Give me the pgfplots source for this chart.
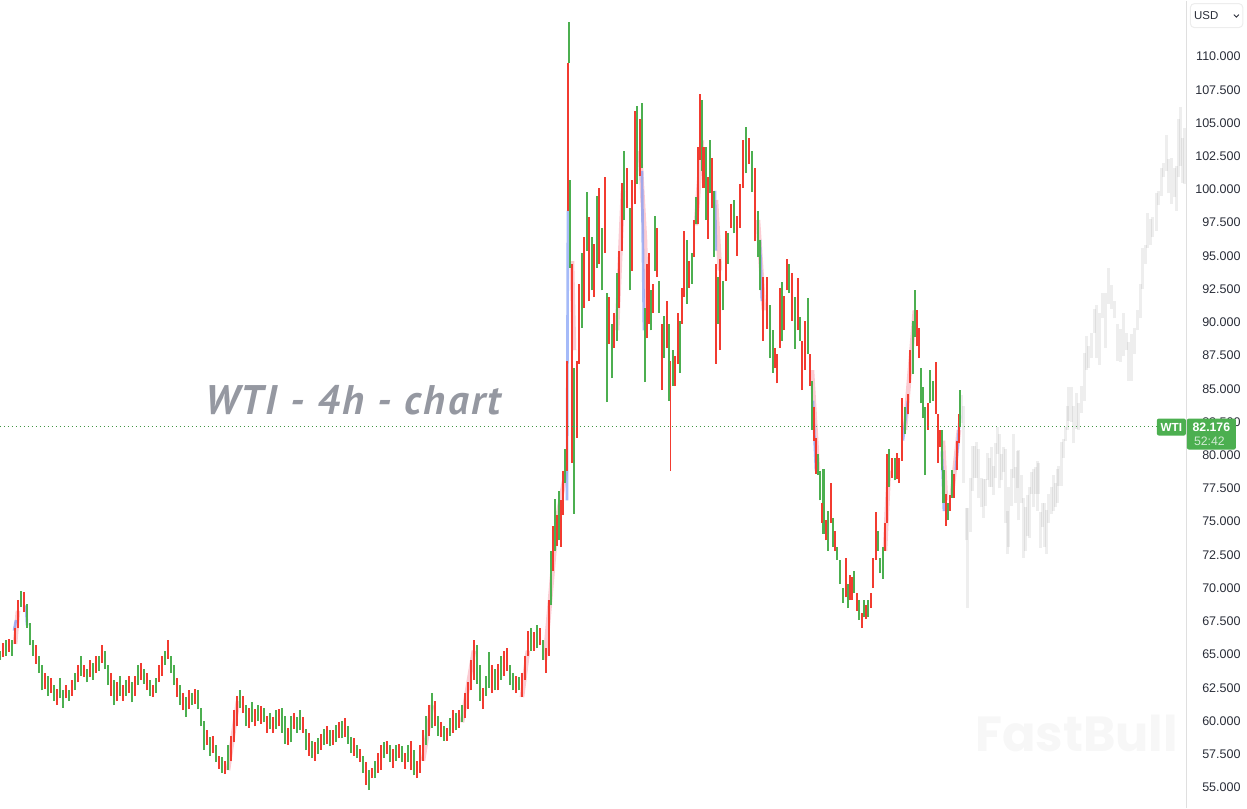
\documentclass[border=0pt]{standalone}
\usepackage{pgfplots}
\usepackage{pgfplotstable}
\usepackage{fontspec}
\pgfplotsset{compat=1.18}
\setmainfont{Liberation Sans}
\newfontfamily\titlefont{PT Sans}[LetterSpace=6]
\newfontfamily\wmfont{Poppins}
\definecolor{barred}{HTML}{F23B30}
\definecolor{bargreen}{HTML}{4CAF50}
\definecolor{axtext}{HTML}{2A2E39}
\definecolor{titlegray}{HTML}{9598A1}
\definecolor{paneline}{HTML}{DFDFDF}
\definecolor{palepink}{HTML}{F9A8B4}
\definecolor{paleblue}{HTML}{7F9CF5}
% x  low  high  c (1 red, 0 green; 3 and 2 are thin red and green wicks)
\pgfplotstableread{
x lo hi c
0 64.6 65.3 0
3 64.8 65.9 1
6 64.9 66.1 0
9 65.2 66.2 1
12 64.9 66.1 0
15 65.8 67.0 1
18 67.0 69.1 1
21 68.6 69.8 0
24 68.2 69.7 1
27 67.0 68.8 0
30 65.7 67.4 0
33 64.9 66.1 0
36 64.3 65.7 1
39 63.6 64.9 0
42 62.3 64.2 0
45 62.4 63.6 1
48 61.9 63.4 0
51 62.1 63.2 1
54 61.5 62.7 0
57 61.2 62.4 1
60 61.7 63.2 0
63 61.0 62.3 0
66 61.7 62.7 1
69 61.5 62.3 0
72 61.9 63.1 1
75 62.3 63.6 0
78 62.9 64.2 1
81 63.4 64.9 0
84 63.3 64.2 1
87 62.9 63.9 0
90 63.3 64.6 1
93 63.1 64.4 0
96 63.6 64.9 1
99 63.8 64.9 0
102 64.4 65.7 1
105 63.9 65.3 0
108 62.7 64.2 0
111 61.9 63.6 1
114 61.2 63.1 0
117 61.5 62.9 1
120 61.9 63.4 0
123 61.5 62.7 1
126 61.9 63.1 0
129 62.1 63.4 1
132 61.4 62.9 0
135 61.9 63.4 1
138 62.7 64.2 0
141 63.1 64.4 1
144 62.8 63.9 0
147 62.3 63.6 1
150 61.9 63.1 0
153 61.8 62.7 1
156 62.1 63.2 0
159 62.9 64.2 1
162 63.4 64.9 1
165 64.2 65.3 0
168 64.7 66.1 1
171 63.6 64.9 0
174 62.7 64.2 0
177 61.8 63.2 1
180 61.2 62.7 0
183 60.8 62.1 1
186 60.3 61.8 0
189 60.9 62.3 1
192 61.2 62.1 0
195 61.3 62.4 1
198 60.9 62.3 0
201 59.6 61.0 0
204 57.8 60.0 0
207 58.2 59.3 1
210 57.4 58.8 0
213 57.6 58.9 1
216 56.9 58.2 0
219 56.4 57.4 1
222 56.1 57.3 0
225 56.0 57.0 1
228 56.3 58.2 0
231 57.0 58.9 1
234 58.4 60.8 1
237 59.6 61.9 1
240 61.0 62.3 0
243 60.6 61.9 1
246 59.6 61.2 0
249 59.5 61.0 1
252 59.9 61.4 0
255 59.6 60.9 1
258 60.0 61.2 0
261 59.8 61.1 1
264 59.9 61.0 0
267 59.1 60.4 1
270 59.4 60.6 0
273 59.1 60.3 1
276 59.4 60.8 0
279 59.6 60.9 1
282 59.1 61.0 0
285 58.3 60.4 0
288 58.2 59.5 1
291 58.4 60.4 0
294 59.4 60.6 1
297 59.1 60.3 0
300 59.3 60.8 0
303 59.1 60.3 1
306 57.8 59.4 0
309 57.4 59.1 1
312 57.2 58.5 0
315 57.0 58.4 1
318 57.5 58.7 0
321 57.8 59.0 1
324 58.2 59.4 0
327 58.3 59.6 1
330 58.1 59.3 0
333 58.2 59.3 1
336 58.4 59.7 0
339 58.7 59.9 1
342 58.7 60.0 0
345 58.8 60.2 1
348 58.3 59.6 0
351 57.6 58.8 0
354 57.4 58.7 1
357 57.2 58.2 0
360 56.9 57.9 1
363 56.1 57.4 0
366 55.2 56.9 1
369 54.8 56.3 0
372 55.7 56.5 1
375 55.7 57.0 0
378 56.1 57.6 1
381 56.3 58.2 1
384 57.2 58.4 0
387 57.5 58.5 1
390 56.9 58.2 0
393 56.5 57.9 1
396 57.0 58.2 0
399 57.2 58.3 1
402 56.9 58.1 0
405 56.4 57.6 1
408 56.9 58.2 0
411 56.3 58.5 1
414 55.9 57.8 0
417 55.7 57.0 1
420 56.1 58.2 1
423 57.0 59.3 1
426 58.2 60.4 0
429 58.9 61.2 1
432 59.5 62.1 0
435 59.6 61.5 1
438 58.9 60.4 0
441 58.8 59.9 1
444 58.5 59.6 0
447 58.5 59.5 1
450 58.9 60.2 0
453 59.1 60.8 1
456 59.3 60.6 0
459 59.5 60.8 1
462 59.9 61.2 0
465 60.2 62.1 1
468 60.9 62.9 1
471 62.3 64.6 1
474 63.1 66.1 1
477 62.8 65.7 0
480 61.5 64.2 0
483 60.9 62.5 1
486 61.9 63.4 0
489 62.5 65.2 0
492 62.1 64.2 1
495 62.3 63.9 0
498 62.3 64.3 1
501 63.1 64.9 0
504 63.4 65.3 1
507 63.8 65.5 1
510 62.7 64.2 0
513 62.3 63.6 0
516 62.1 63.4 1
519 62.3 63.3 0
522 61.8 63.6 1
525 63.1 64.9 1
528 64.9 66.8 1
531 65.3 67.0 0
534 65.3 66.7 1
537 65.5 67.2 0
540 65.7 67.0 1
543 64.6 66.1 0
546 63.6 65.5 1
549 64.9 69.1 1
551 68.7 72.8 0
553 71.3 74.7 1
555 72.8 76.7 0
557 73.2 75.5 1
559 73.6 77.3 0
561 73.1 76.6 1
563 75.5 78.8 1
565 77.9 80.5 0
567 78.8 87.1 1
568 98.4 109.5 3
569 109.5 112.6 2
570 94.1 100.7 0
572 79.4 94.4 1
574 75.6 86.6 0
577 81.3 87.1 1
579 86.9 92.9 1
582 89.6 95.2 0
584 91.1 96.4 1
587 95.4 99.8 0
589 91.6 97.9 1
592 92.4 96.4 0
594 91.9 95.9 1
597 94.1 99.5 0
599 94.4 100.1 1
602 92.4 97.1 0
605 95.2 100.9 1
607 84.0 92.2 2
609 88.4 91.9 1
612 85.8 89.9 0
614 88.1 90.7 1
617 88.6 93.7 0
619 91.1 95.4 1
622 95.4 100.5 1
624 97.7 102.9 0
627 98.6 101.6 1
630 92.4 98.6 0
632 93.9 100.7 1
635 98.9 105.9 1
637 100.4 106.3 0
640 101.0 105.3 1
642 101.6 106.5 0
645 85.5 91.1 0
647 88.8 94.4 1
649 89.9 95.2 1
651 89.4 92.4 0
653 90.7 92.9 1
655 93.9 98.0 0
657 93.4 97.1 1
659 90.7 93.1 0
662 84.9 89.9 1
664 87.3 90.5 0
667 88.1 91.6 1
669 84.1 89.9 0
670.5 78.8 87.1 3
673 85.2 87.9 0
675 85.2 87.5 1
678 86.9 90.7 1
680 86.2 90.1 0
682 89.9 92.6 1
684 91.9 96.9 1
687 91.4 96.2 0
689 92.6 94.6 1
692 92.9 95.2 0
694 94.9 97.7 1
696 97.4 99.4 0
698 97.4 103.2 1
700 102.2 107.2 1
702 101.4 106.7 0
703.5 100.1 103.2 1
706 97.7 103.2 0
708 96.3 100.9 1
710 99.7 103.7 0
712 98.6 102.4 1
714 94.9 99.9 0
716 86.9 94.4 1
718 89.9 93.4 0
720 87.9 94.8 1
723 90.9 93.1 0
726 93.1 96.9 1
728 94.4 96.7 0
731 97.1 98.9 1
734 96.7 99.2 0
737 95.0 98.0 1
740 97.1 100.4 1
743 100.1 103.7 1
746 101.2 104.7 0
749 101.9 103.9 1
752 99.8 102.9 0
755 96.1 101.6 1
758 94.9 98.4 0
760 92.4 96.2 0
763 88.6 93.4 1
767 89.5 93.4 1
770 87.3 91.3 0
773 86.2 89.4 0
775 86.6 88.1 1
777 85.4 87.6 1
780 88.1 92.6 1
782 88.6 93.0 0
784 89.4 92.0 1
787 92.4 94.8 1
789 92.2 94.4 0
792 90.1 93.7 1
795 88.0 91.9 0
798 89.4 93.3 1
800 88.6 90.4 0
802 84.9 88.6 1
805 86.4 90.1 1
808 87.6 91.8 0
810 85.2 87.6 1
812 81.9 85.6 0
814 81.1 83.6 1
816 78.6 81.3 1
818 78.5 80.1 0
820 76.6 78.8 0
822 74.9 76.4 1
823.5 74.1 79.0 0
826 73.6 75.1 1
828 72.8 75.8 0
831 74.9 77.9 1
833 73.1 75.3 0
835 72.8 74.3 1
837 72.1 73.1 0
840 70.3 72.1 0
843 68.9 70.0 0
846 69.3 72.3 1
848 68.5 70.3 0
850 69.1 71.0 1
852 69.1 70.8 1
854 69.6 71.3 0
857 68.3 69.6 1
859 67.6 69.1 0
862 67.0 68.1 1
864 67.8 69.1 0
866 67.7 68.7 1
868 67.8 69.1 0
871 68.5 69.6 1
873 70.0 72.3 1
876 72.1 75.7 1
878 72.8 74.3 0
880 71.1 72.3 0
883 70.7 73.1 0
885 72.8 74.9 1
887 74.9 80.1 1
889 77.6 80.5 0
892 78.3 79.8 1
895 78.1 79.8 0
897 78.2 80.2 1
899 77.9 79.8 1
902 79.6 84.3 1
905 81.6 83.6 0
908 83.1 84.6 1
910 85.4 87.9 1
913 86.1 90.1 0
915 88.9 92.4 0
917 88.2 90.9 1
919 87.3 89.6 1
921 83.9 86.6 0
923 82.8 85.1 0
925 78.5 83.6 2
928 81.9 83.9 1
930 83.9 86.4 0
933 84.1 85.6 0
936 83.1 87.0 1
938 79.4 83.1 1
940 80.6 81.9 1
942 78.9 81.9 0
943.5 76.4 78.9 0
946 74.7 77.1 1
948 75.1 76.4 0
950 75.8 77.0 1
952 76.8 78.9 0
954 76.8 78.6 1
957 78.9 81.1 1
959 80.9 83.1 1
960 82.1 84.9 2
}\maintable
% the pale projected bars on the right
\pgfplotstableread{
x lo hi
962 82.4 84.5
964 77.9 83.7
967 73.6 76.0
968 68.5 76.0
971 74.2 78.3
973 77.3 80.7
975 78.3 80.7
977 78.3 81.0
979 76.8 80.5
982 76.1 78.3
983.5 75.3 78.2
986 76.2 78.2
988 78.1 80.2
989.5 77.6 79.8
992 77.6 80.6
993.5 77.0 79.2
996 78.3 80.9
998 80.1 82.1
999.5 77.5 81.6
1002 78.1 80.1
1003.5 78.7 80.6
1006 74.9 80.5
1007.5 72.6 75.8
1009 73.1 77.6
1012 76.2 79.0
1013.5 78.3 81.6
1016 76.4 79.1
1017.5 77.5 80.3
1019 75.1 80.4
1022 76.4 78.5
1023.5 72.3 76.8
1026 72.8 76.1
1028 73.9 77.0
1029.5 73.8 77.6
1032 77.1 78.7
1033.5 76.1 79.0
1036 77.1 79.1
1037.5 75.8 79.6
1039 77.1 79.4
1041 73.0 75.7
1043 74.6 76.4
1045 73.1 76.4
1047 72.6 75.9
1049 74.9 77.1
1052 75.6 77.6
1053.5 75.8 78.5
1056 76.1 77.9
1057.5 76.4 79.0
1059 77.7 79.2
1062 77.7 81.0
1063.5 79.8 81.2
1066 81.1 82.1
1067.5 81.9 83.7
1069 82.6 85.1
1072 82.5 85.1
1074 80.9 83.7
1077 82.0 84.7
1079 81.9 83.9
1082 83.2 85.2
1084.5 84.1 87.7
1087 86.4 89.0
1089 86.6 88.2
1092 87.3 89.2
1095 89.2 91.0
1097 87.3 91.3
1100 86.8 90.7
1103 90.3 92.2
1106 88.1 92.2
1109 91.4 94.1
1112 91.0 92.8
1115 90.3 91.6
1118 87.1 89.9
1121 87.0 89.5
1124 87.5 90.7
1127 87.9 89.2
1128.5 85.6 88.5
1132 85.6 89.1
1135 87.6 89.6
1138 89.4 90.9
1141 90.3 92.9
1143 92.5 95.6
1146 94.4 95.8
1148 95.6 98.2
1151 95.8 97.8
1153 96.4 97.9
1157 96.9 99.7
1159 98.8 99.9
1162 99.5 101.6
1164 100.9 102.0
1167 101.4 104.1
1169 99.7 102.3
1172 98.9 102.4
1175 99.4 101.6
1177 98.4 101.8
1179 100.9 105.3
1181 101.8 106.2
1183 100.5 103.9
1185 100.4 104.6
}\ghosttable
\begin{document}
\begin{tikzpicture}
% watermark and title, behind the bars
\begin{scope}[yshift=605.25pt,x=0.75pt,y=-0.75pt]
\node[anchor=west,inner sep=0pt,text=black!3.2,font=\wmfont\bfseries\fontsize{37}{37}\selectfont] at (975,733) {FastBull};
\node[anchor=west,inner sep=0pt,text=titlegray,font=\titlefont\bfseries\itshape\fontsize{31}{31}\selectfont] at (205,400) {WTI - 4h - chart};
\end{scope}
\begin{axis}[
  scale only axis,
  width=935.25pt,height=605.25pt,
  xmin=0,xmax=1247,ymin=53.49,ymax=114.21,
  axis line style={draw=none},
  xtick=\empty,
  ytick={55,57.5,...,110},
  ytick pos=right,
  yticklabel pos=right,
  major tick length=0pt,
  clip=true,
  y tick label style={anchor=east,xshift=-4.5pt,inner sep=0pt,text=axtext,font=\fontsize{9.4}{10}\selectfont,
    /pgf/number format/fixed,/pgf/number format/fixed zerofill,/pgf/number format/precision=3,
    /pgf/number format/1000 sep={},/pgf/number format/assume math mode=true},
  scaled y ticks=false,
]
% projected pale bars
\addplot[draw=none,mark=none,forget plot,
  error bars/.cd,y dir=plus,y explicit,error mark=none,
  error bar style={line width=2.25pt,draw=black,opacity=0.065}]
  table[x=x,y=lo,y error expr=\thisrow{hi}-\thisrow{lo}] {\ghosttable};
% pale blur on the steep runs
\addplot[unbounded coords=jump,color=palepink,opacity=0.6,line width=3.5pt,forget plot] coordinates {
(15,65.8)(18,68.3)(19,nan)
(228,56.3)(238,61.5)(239,nan)
(423,57.0)(432,61.2)(433,nan)
(462,59.9)(474,65.3)(475,nan)
(522,61.8)(528,65.3)(529,nan)
(545,64.6)(557,75.1)(566,78.8)(567,nan)
(572,94.6)(574,87.9)(575,nan)
(617,89.4)(623,99.9)(624,nan)
(640,102.9)(645,96.2)(647,90.9)(648,nan)
(696,97.3)(702,103.7)(703,nan)
(716,99.2)(720,93.9)(721,nan)
(758,97.7)(764,90.9)(765,nan)
(812,86.4)(818,78.85)(819,nan)
(885,72.8)(889,78.85)(890,nan)
(905,81.9)(915,90.9)(916,nan)
(943,81.1)(946,76.6)(947,nan)
(952,77.0)(959,81.9)
};
\addplot[unbounded coords=jump,color=paleblue,opacity=0.7,line width=2pt,forget plot] coordinates {
(14,66.8)(16,67.6)(17,nan)
(26,68.7)(27,67.2)(28,nan)
(567,76.6)(568,98.4)(569,nan)
(642,101.4)(644,89.4)(645,nan)
(715,99.9)(716,95.4)(717,nan)
(760,96.2)(762,91.6)(763,nan)
(813,84.1)(816,78.85)(817,nan)
(903,81.1)(908,84.1)(909,nan)
(942,80.3)(944,75.8)(945,nan)
(956,78.9)(960,83.0)
};
% bars
\addplot[draw=none,mark=none,forget plot,
  restrict expr to domain={\thisrow{c}}{0:0},
  error bars/.cd,y dir=plus,y explicit,error mark=none,
  error bar style={line width=2.1pt,draw=bargreen}]
  table[x=x,y=lo,y error expr=\thisrow{hi}-\thisrow{lo}] {\maintable};
\addplot[draw=none,mark=none,forget plot,
  restrict expr to domain={\thisrow{c}}{1:1},
  error bars/.cd,y dir=plus,y explicit,error mark=none,
  error bar style={line width=2.1pt,draw=barred}]
  table[x=x,y=lo,y error expr=\thisrow{hi}-\thisrow{lo}] {\maintable};
\addplot[draw=none,mark=none,forget plot,
  restrict expr to domain={\thisrow{c}}{2:2},
  error bars/.cd,y dir=plus,y explicit,error mark=none,
  error bar style={line width=1pt,draw=bargreen}]
  table[x=x,y=lo,y error expr=\thisrow{hi}-\thisrow{lo}] {\maintable};
\addplot[draw=none,mark=none,forget plot,
  restrict expr to domain={\thisrow{c}}{3:3},
  error bars/.cd,y dir=plus,y explicit,error mark=none,
  error bar style={line width=1pt,draw=barred}]
  table[x=x,y=lo,y error expr=\thisrow{hi}-\thisrow{lo}] {\maintable};
% last price line
\addplot[bargreen!85!black,line width=0.65pt,dash pattern=on 0.65pt off 2.35pt,forget plot] coordinates {(0,82.176)(1157,82.176)};
\end{axis}
% price scale furniture, tag and currency box
\begin{scope}[yshift=605.25pt,x=0.75pt,y=-0.75pt]
\draw[paneline,line width=0.9pt] (1186.5,0)--(1186.5,807);
\draw[black!7,line width=0.75pt,rounded corners=3pt,fill=white] (1190.5,3)rectangle(1243,27);
\node[anchor=west,inner sep=0pt,text=axtext,font=\fontsize{8.6}{10}\selectfont] at (1194,15) {USD};
\draw[axtext,line width=0.7pt] (1234,14)--(1236.5,16.5)--(1239,14);
\fill[bargreen,rounded corners=1.5pt] (1157,418)rectangle(1186,435);
\fill[bargreen,rounded corners=1.5pt] (1187,418)rectangle(1236,449);
\node[inner sep=0pt,text=white,font=\bfseries\fontsize{8.8}{10}\selectfont] at (1171.5,426.5) {WTI};
\node[inner sep=0pt,text=white,font=\bfseries\fontsize{9.2}{10}\selectfont] at (1211.5,426.5) {82.176};
\node[inner sep=0pt,text=white!75!bargreen,font=\fontsize{9.2}{10}\selectfont] at (1209.5,441) {52:42};
\end{scope}
\end{tikzpicture}
\end{document}
